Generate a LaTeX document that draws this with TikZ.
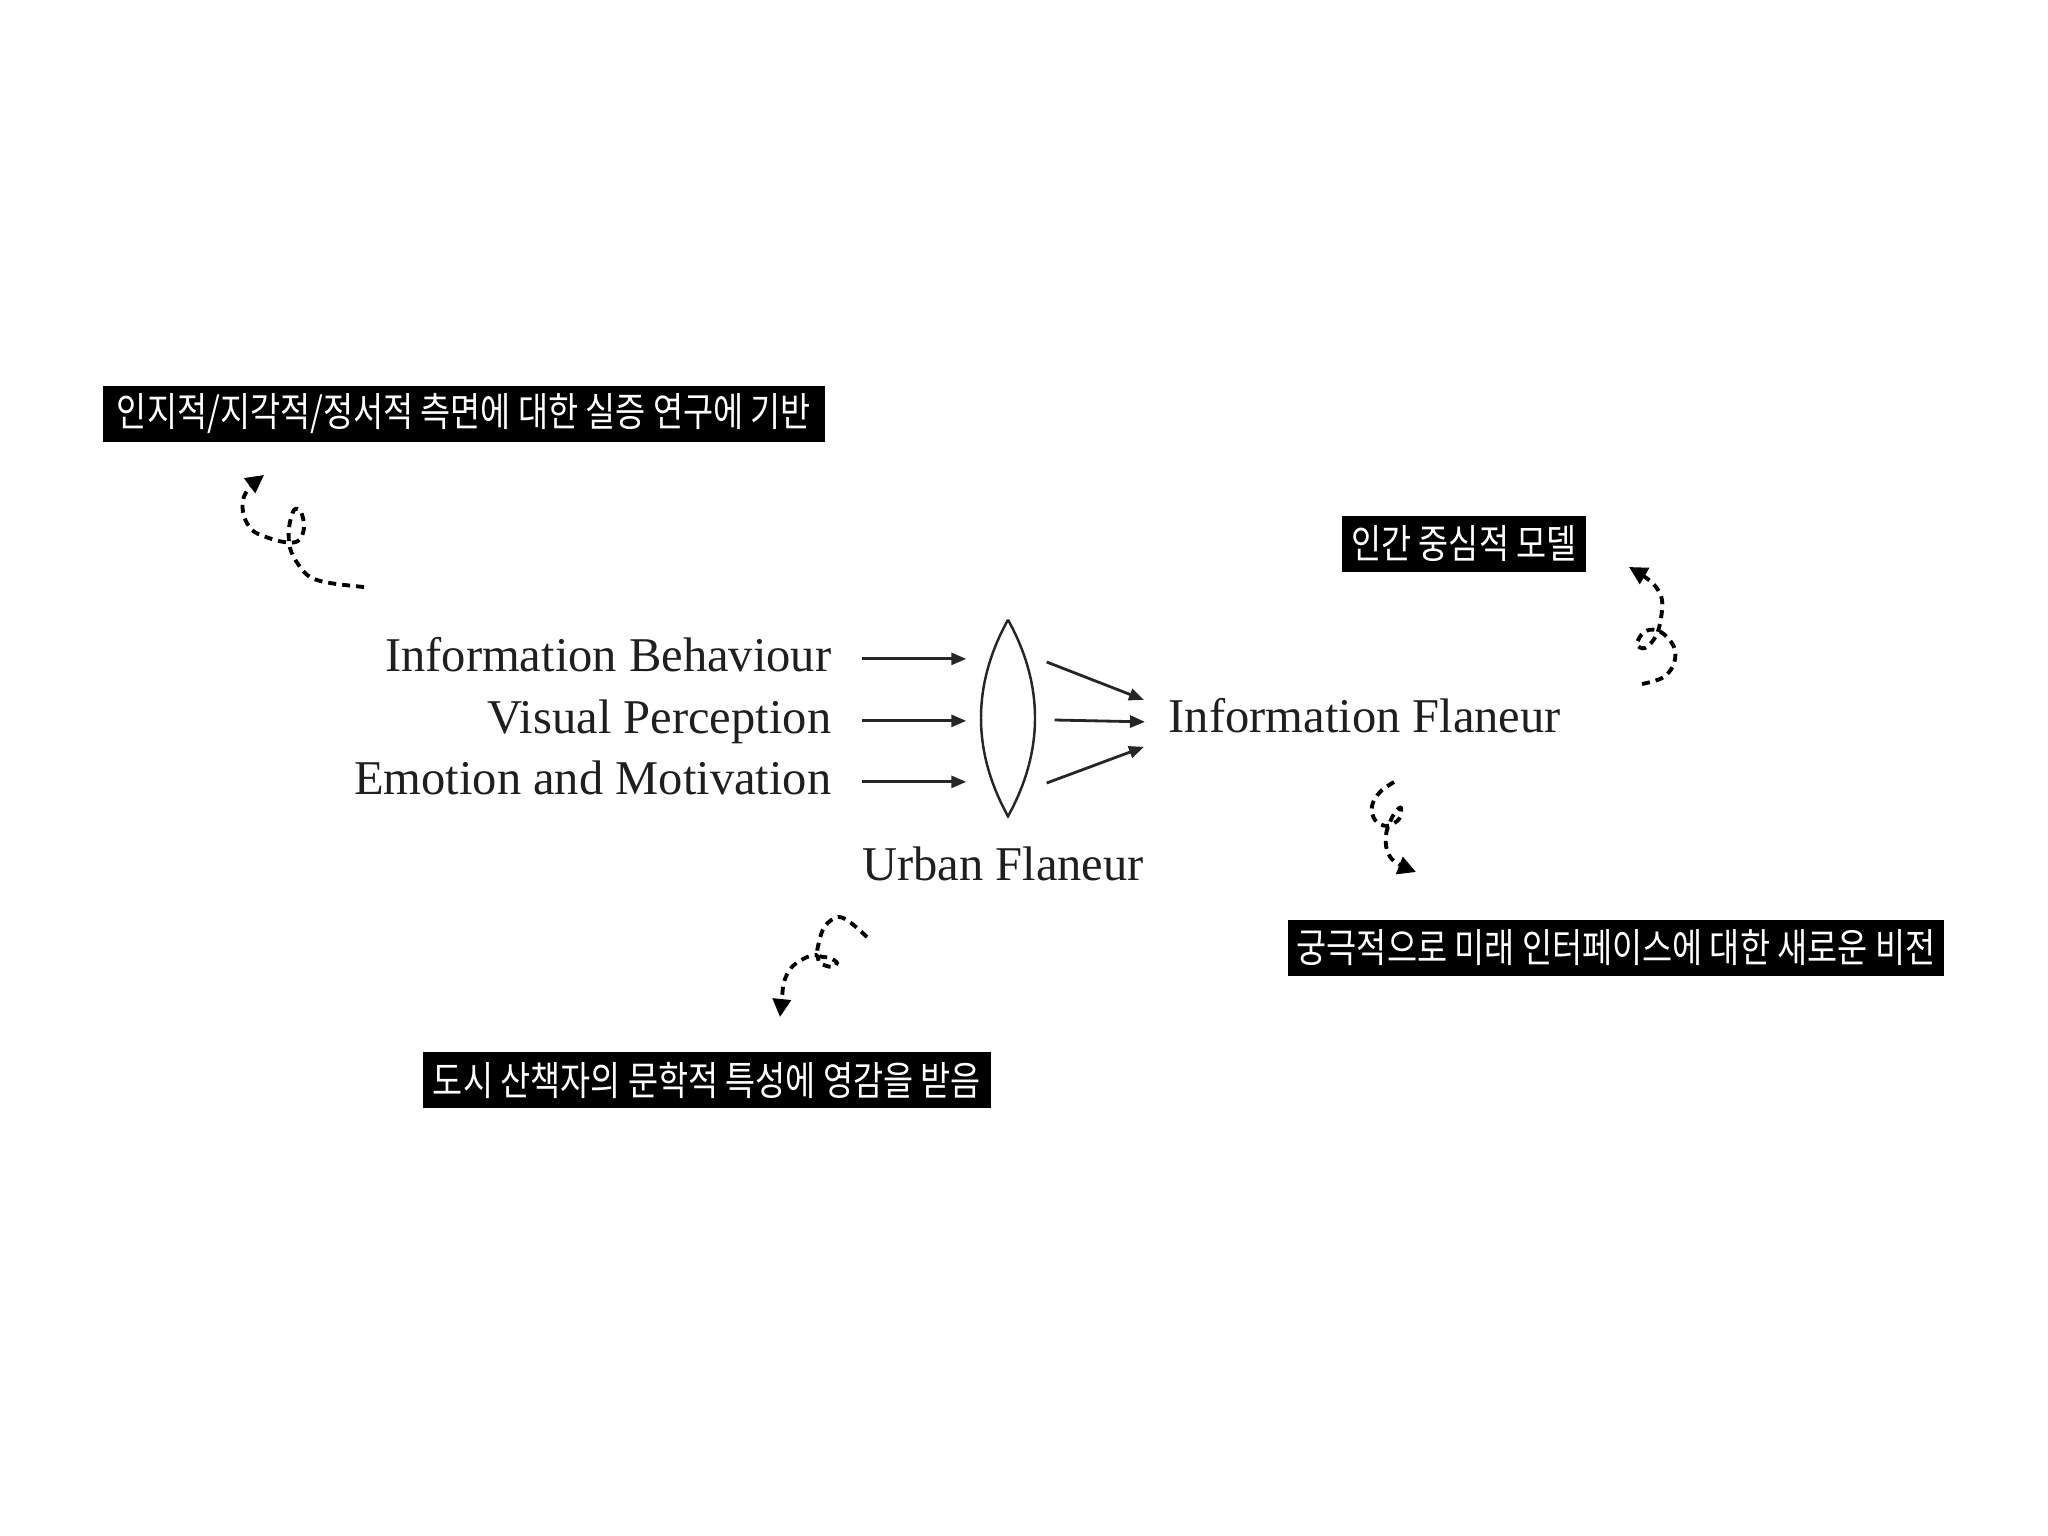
\documentclass[tikz,border=0pt]{standalone}
\usepackage{graphicx}
\usepackage{fontspec}
\setmainfont{Liberation Serif}
\newfontfamily\kofont{Noto Sans CJK KR}
\usetikzlibrary{arrows.meta}
\tikzset{
    lbl/.style={
        inner sep=0pt, text height=9.7pt, text depth=2.8pt,
        font=\fontsize{13.8}{16}\selectfont, text=black!88
    },
    kobox/.style={
        fill=black, text=white, inner sep=0pt, minimum height=0.55cm,
        font=\kofont\fontsize{9.3}{10}\selectfont
    },
    flow/.style={line width=0.8pt, black!85, -{Triangle[length=1.5mm,width=1.2mm]}},
    squiggle/.style={
        line width=1.1pt, dash pattern=on 0.8mm off 0.6mm,
        -{Triangle[length=1.8mm,width=1.8mm]}
    },
    lens/.style={inner sep=0pt, minimum width=0.54cm, minimum height=1.95cm}
}
\newcommand{\notebox}[4] {
	\node[kobox, minimum width=#3] (#1) at #2 {\scalebox{1}[1.22]{#4}};
}

\begin{document}
\begin{tikzpicture}[x=0.01cm, y=-0.01cm]
		\useasboundingbox (0,0) rectangle (2048,1536);

		% Inputs
		\node[lbl, anchor=base east] (behaviour) at (832,671) {Information Behaviour};
		\node[lbl, anchor=base east] (perception) at (832,733) {Visual Perception};
		\node[lbl, anchor=base east] (emotion) at (832,794) {Emotion and Motivation};

		% Lens
		\node[lens] (lens) at (1008,718) {};
		\draw[line width=0.7pt, black!85] (lens.north)
			.. controls ([shift={(-36,65)}]lens.north) and ([shift={(-36,-65)}]lens.south) .. (lens.south)
			.. controls ([shift={(36,-65)}]lens.south) and ([shift={(36,65)}]lens.north) .. (lens.north);
		\node[lbl, anchor=base] (urban) at (1003,880) {Urban Flaneur};

		% Output
		\node[lbl, anchor=base west] (flaneur) at (1168,732) {Information Flaneur};

		\draw[flow] ([xshift=0.3cm]behaviour.east) -- ([xshift=-0.14cm]behaviour.east -| lens.west);
		\draw[flow] ([xshift=0.3cm]perception.east) -- ([xshift=-0.14cm]perception.east -| lens.west);
		\draw[flow] ([xshift=0.3cm]emotion.east) -- ([xshift=-0.14cm]emotion.east -| lens.west);

		\draw[flow] ([shift={(11,-56)}]lens.east) -- ([shift={(-24,-20)}]flaneur.west);
		\draw[flow] ([shift={(19,2)}]lens.east) -- ([shift={(-23,2)}]flaneur.west);
		\draw[flow] ([shift={(11,65)}]lens.east) -- ([shift={(-24,27)}]flaneur.west);

		% Notes
		\notebox{basis}{(464,414)}{7.21cm}{인지적/지각적/정서적 측면에 대한 실증 연구에 기반}
		\notebox{human}{(1464,544)}{2.43cm}{인간 중심적 모델}
		\notebox{vision}{(1616,948)}{6.56cm}{궁극적으로 미래 인터페이스에 대한 새로운 비전}
		\notebox{literary}{(707,1080)}{5.67cm}{도시 산책자의 문학적 특성에 영감을 받음}

		\draw[squiggle] plot[smooth, tension=0.6] coordinates {(364,587) (330,583) (310,577) (298,564) (290,548) (289,528) (294,510) (301,512) (304,528) (298,541) (284,542) (266,537) (252,530) (244,516) (243,500) (250,487) (264,475)};
		\draw[squiggle] plot[smooth, tension=0.6] coordinates {(1642,684) (1662,678) (1673,666) (1675,650) (1667,637) (1656,630) (1644,632) (1637,644) (1645,648) (1656,636) (1661,618) (1662,600) (1656,587) (1645,577) (1629,567)};
		\draw[squiggle] plot[smooth, tension=0.6] coordinates {(1394,782) (1380,792) (1372,806) (1375,820) (1387,826) (1399,819) (1401,808) (1396,811) (1390,822) (1386,835) (1387,850) (1395,862) (1416,872)};
		\draw[squiggle] plot[smooth, tension=0.6] coordinates {(867,937) (851,923) (838,917) (825,926) (819,942) (818,955) (830,958) (837,963) (832,967) (820,963) (816,955) (803,959) (791,968) (784,982) (782,998) (780,1017)};

	\end{tikzpicture}
\end{document}
